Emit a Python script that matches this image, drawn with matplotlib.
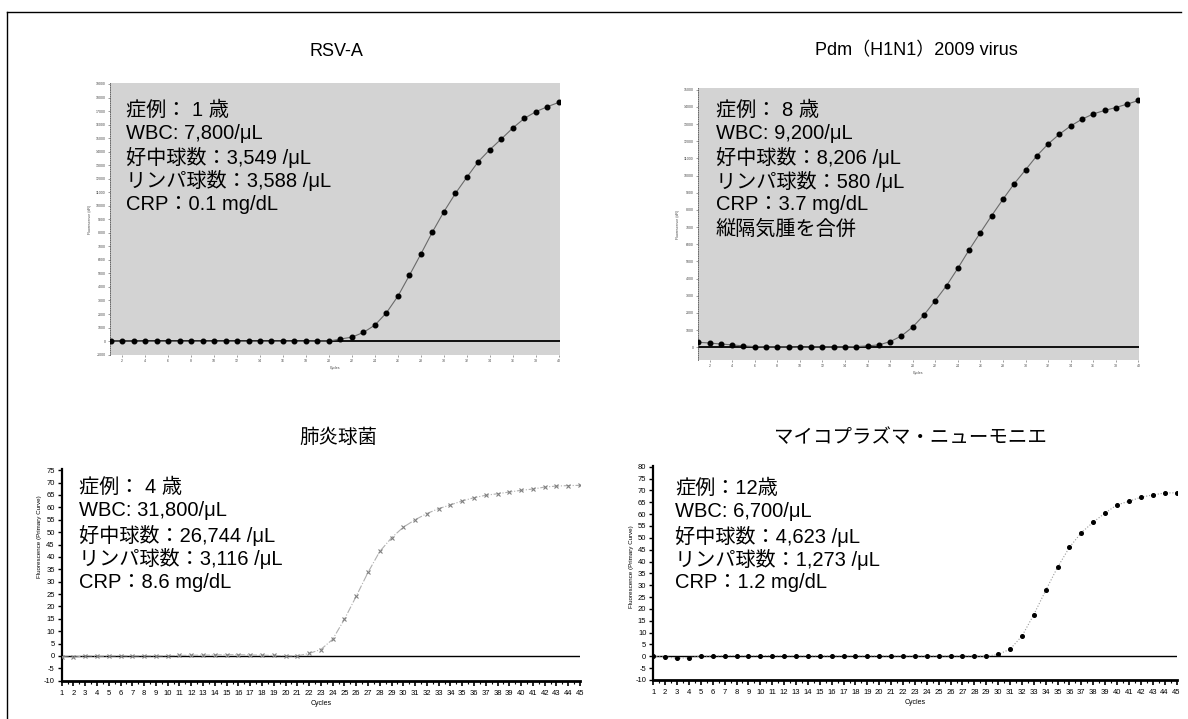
import matplotlib
matplotlib.use("Agg")
import matplotlib.pyplot as plt
from matplotlib.lines import Line2D
import numpy as np

plt.rcParams['font.family'] = ['Liberation Sans', 'Noto Sans CJK JP', 'DejaVu Sans']
FAM = ['Liberation Sans', 'Noto Sans CJK JP', 'DejaVu Sans']

W, H = 1188, 719

# ---------------- data ----------------
titles = ["RSV-A", "Pdm（H1N1）2009 virus", "肺炎球菌", "マイコプラズマ・ニューモニエ"]

notes_tl = ["症例： 1 歳", "WBC: 7,800/μL", "好中球数：3,549 /μL", "リンパ球数：3,588 /μL", "CRP：0.1 mg/dL"]
notes_tr = ["症例： 8 歳", "WBC: 9,200/μL", "好中球数：8,206 /μL", "リンパ球数：580 /μL", "CRP：3.7 mg/dL", "縦隔気腫を合併"]
notes_bl = ["症例： 4 歳", "WBC: 31,800/μL", "好中球数：26,744 /μL", "リンパ球数：3,116 /μL", "CRP：8.6 mg/dL"]
notes_br = ["症例：12歳", "WBC: 6,700/μL", "好中球数：4,623 /μL", "リンパ球数：1,273 /μL", "CRP：1.2 mg/dL"]

cycles_top = list(range(1, 41))
rsv_a = [0.0, 0.0, 0.0, -0.02, -0.02, -0.02, -0.02, -0.02, -0.02, -0.02,
         -0.02, -0.02, -0.02, -0.02, -0.02, -0.02, -0.02, -0.02, 0.0, 0.0,
         0.15, 0.29, 0.64, 1.18, 2.09, 3.32, 4.86, 6.44, 8.06, 9.56,
         10.91, 12.11, 13.27, 14.15, 14.94, 15.75, 16.46, 16.95, 17.32, 17.64]
h1n1 = [0.29, 0.25, 0.19, 0.14, 0.08, 0.04, 0.02, 0.02, 0.02, 0.0,
        0.02, 0.02, 0.02, 0.02, 0.04, 0.08, 0.14, 0.33, 0.66, 1.18,
        1.88, 2.72, 3.59, 4.60, 5.67, 6.68, 7.67, 8.62, 9.53, 10.33,
        11.15, 11.84, 12.41, 12.89, 13.28, 13.59, 13.79, 13.96, 14.16, 14.37]

cycles_bot = list(range(1, 46))
pneumo = [-0.3, -0.6, 0.1, -0.1, 0.0, 0.1, 0.0, 0.1, 0.0, 0.1,
          0.2, 0.3, 0.3, 0.4, 0.5, 0.5, 0.4, 0.3, 0.2, 0.1,
          0.0, 1.0, 2.6, 6.7, 14.8, 24.1, 33.7, 42.2, 47.7, 52.0,
          55.0, 57.5, 59.5, 61.0, 62.6, 63.9, 64.9, 65.5, 66.2, 66.9,
          67.4, 68.2, 68.6, 68.8, 68.9]
myco = [0.0, -0.3, -0.8, -0.6, 0.1, 0.1, 0.3, 0.3, 0.2, 0.3,
        0.3, 0.2, 0.2, 0.2, 0.2, 0.2, 0.2, 0.2, 0.2, 0.2,
        0.2, 0.2, 0.2, 0.2, 0.2, 0.2, 0.2, 0.2, 0.0, 0.8,
        3.0, 8.5, 17.6, 27.8, 37.6, 46.0, 52.2, 56.6, 60.5, 63.9,
        65.4, 67.1, 68.1, 68.9, 69.0]

top_yticks_tl = list(range(-1, 20))
top_yticks_tr = list(range(0, 16))
bl_yticks = list(range(-10, 80, 5))
br_yticks = list(range(-10, 85, 5))

# ---------------- helpers ----------------
def fx(x):
    return x / W

def fy(y):
    return 1 - y / H

def rect(x0, y0, x1, y1):
    return [fx(x0), fy(y1), (x1 - x0) / W, (y1 - y0) / H]

fig = plt.figure(figsize=(W / 100, H / 100), dpi=100)
fig.patch.set_facecolor('white')

# outer frame
fig.add_artist(Line2D([fx(7), fx(1181)], [fy(12), fy(12)], color='black', lw=1.0))
fig.add_artist(Line2D([fx(7), fx(7)], [fy(12), fy(719)], color='black', lw=1.0))

# ---------------- top panels ----------------
def top_panel(box, xdata, ydata, yticks, ylim, xlim):
    ax = fig.add_axes(box)
    ax.set_facecolor('#d3d3d3')
    ax.set_xlim(*xlim)
    ax.set_ylim(*ylim)
    for s in ['top', 'right', 'bottom']:
        ax.spines[s].set_visible(False)
    ax.spines['left'].set_color('#555555')
    ax.spines['left'].set_linewidth(0.6)
    ax.spines['left'].set_linestyle(':')
    ax.axhline(0, color='black', lw=1.3, zorder=2)
    ax.plot(xdata, ydata, color='#6a6a6a', lw=0.8, zorder=3)
    ax.plot(xdata, ydata, 'o', color='black', ms=3.3, zorder=4)
    ax.set_yticks(yticks)
    ax.set_yticklabels([f"{v * 1000}" for v in yticks], fontsize=2.5, color='#444444')
    ax.set_xticks(xdata[1::2])
    ax.set_xticklabels([str(v) for v in xdata[1::2]], fontsize=2.5, color='#444444')
    ax.tick_params(axis='both', length=1.5, width=0.4, color='#555555', pad=1.5)
    ax.set_xlabel("Cycles", fontsize=2.5, color='#444444', labelpad=2)
    ax.set_ylabel("Fluorescence (dR)", fontsize=2.5, color='#444444', labelpad=3)
    return ax

top_panel(rect(110, 83.3, 560, 355), cycles_top, rsv_a, top_yticks_tl, (-1.03, 19.05), (0.95, 40.1))
top_panel(rect(698, 88.3, 1139, 360), cycles_top, h1n1, top_yticks_tr, (-0.74, 15.08), (0.98, 40.05))

# ---------------- bottom panels ----------------
def bottom_panel(box, xdata, ydata, yticks, ylim, style):
    ax = fig.add_axes(box)
    ax.set_facecolor('white')
    ax.set_xlim(1, 45)
    ax.set_ylim(*ylim)
    for s in ['top', 'right']:
        ax.spines[s].set_visible(False)
    ax.spines['left'].set_linewidth(1.6)
    ax.spines['bottom'].set_linewidth(2.0)
    ax.axhline(0, color='black', lw=1.0, zorder=2)
    if style == 'x':
        ax.plot(xdata, ydata, color='#b0b0b0', lw=0.8, ls='-.', zorder=3)
        ax.plot(xdata, ydata, 'x', color='#808080', ms=3, mew=0.8, zorder=4)
    else:
        ax.plot(xdata, ydata, color='#9a9a9a', lw=0.8, ls=':', zorder=3)
        ax.plot(xdata, ydata, 'o', color='black', ms=2.6, zorder=4)
    ax.set_yticks(yticks)
    ax.set_yticklabels([str(v) for v in yticks], fontsize=5.5)
    ax.set_xticks(xdata)
    ax.set_xticklabels([str(v) for v in xdata], fontsize=5.5)
    ax.set_xticks([v + 0.5 for v in xdata[:-1]], minor=True)
    ax.tick_params(axis='x', which='major', length=3.5, width=1.2, pad=3)
    ax.tick_params(axis='x', which='minor', length=2, width=0.8)
    ax.tick_params(axis='y', which='major', length=3, width=1.0, pad=2)
    ax.set_xlabel("Cycles", fontsize=5, labelpad=2)
    return ax

bottom_panel(rect(61.7, 469, 580, 680.7), cycles_bot, pneumo, bl_yticks, (-10, 75.5), 'x')
bottom_panel(rect(653.3, 466, 1176.5, 680), cycles_bot, myco, br_yticks, (-10, 80.3), 'o')

fig.text(fx(40), fy(537), "Fluorescence (Primary Curve)", rotation=90, fontsize=4.5,
         ha='center', va='center')
fig.text(fx(631), fy(567), "Fluorescence (Primary Curve)", rotation=90, fontsize=4.5,
         ha='center', va='center')

# ---------------- titles ----------------
fig.text(fx(336), fy(51), titles[0], fontsize=13, ha='center', va='center', family=FAM)
fig.text(fx(916), fy(51), titles[1], fontsize=13, ha='center', va='center', family=FAM)
fig.text(fx(338), fy(438), titles[2], fontsize=14, ha='center', va='center', family=FAM)
fig.text(fx(910), fy(438), titles[3], fontsize=14, ha='center', va='center', family=FAM)

# ---------------- annotations ----------------
def notes(x0, ys, lines):
    for y, t in zip(ys, lines):
        fig.text(fx(x0), fy(y), t, fontsize=14.5, ha='left', va='center', color='black', family=FAM)

notes(126, [110, 133.5, 157, 180.5, 205], notes_tl)
notes(716, [110, 133.5, 157, 181, 205, 229], notes_tr)
notes(79, [487, 510.5, 535, 558.5, 582.5], notes_bl)
notes(675, [488, 511.5, 536, 559.5, 583], notes_br)

fig.savefig("out.png", dpi=100)
